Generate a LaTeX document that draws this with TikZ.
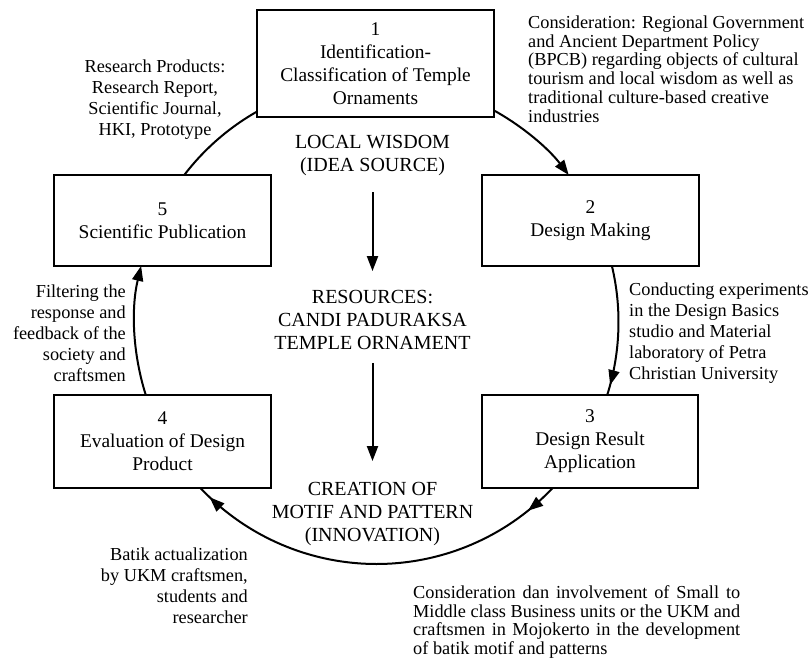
\documentclass[tikz,border=0pt]{standalone}
\usepackage{fontspec}
\setmainfont{Liberation Serif}
\usetikzlibrary{arrows.meta,decorations.markings,calc}
\begin{document}
\begin{tikzpicture}[x=1pt,y=1pt,
  box/.style={draw,line width=1.6pt,fill=white,rectangle,align=center,
    font=\fontsize{19.4}{23}\selectfont,inner sep=0pt},
  ctext/.style={align=center,font=\fontsize{20}{23}\selectfont,inner sep=0pt},
  note/.style={font=\fontsize{18.3}{21}\selectfont,inner sep=0pt},
  tightnote/.style={font=\fontsize{18.3}{18.8}\selectfont,inner sep=0pt},
  conn/.style={line width=2pt},
  tip/.style={-{Triangle[length=15pt,width=11pt]}},
]
\useasboundingbox (0,0) rectangle (810,-661);

% boxes
\node[box,minimum width=237pt,minimum height=107pt] (b1) at (375.5,-63.5)
  {1\\Identification-\\Classification of Temple\\Ornaments};
\node[box,minimum width=217pt,minimum height=91pt] (b2) at (590.5,-220.5)
  {2\\Design Making};
\node[box,minimum width=216pt,minimum height=93pt] (b3) at (590,-441.5)
  {3\\Design Result\\Application};
\node[box,minimum width=217pt,minimum height=93pt] (b4) at (162.5,-441.5)
  {4\\Evaluation of Design\\Product};
\node[box,minimum width=217pt,minimum height=91pt] (b5) at (162.5,-220.5)
  {5\\Scientific Publication};

% centre column
\node[ctext] (lw) at (372.5,-156) {LOCAL WISDOM\\(IDEA SOURCE)};
\node[ctext] (res) at (372.5,-320) {RESOURCES:\\CANDI PADURAKSA\\TEMPLE ORNAMENT};
\node[ctext] (cr) at (372.5,-514) {CREATION OF\\MOTIF AND PATTERN\\(INNOVATION)};
\draw[conn,tip,shorten <=16pt,shorten >=19pt] (lw) -- (res);
\draw[conn,tip,shorten <=13pt,shorten >=21pt] (res) -- (cr);

% annotations
\node[tightnote,align=left,anchor=west] (n1) at (528,-69)
  {Consideration: Regional Government\\and Ancient Department Policy\\(BPCB) regarding objects of cultural\\tourism and local wisdom as well as\\traditional culture-based creative\\industries};
\node[note,align=center] (n5) at (155,-100)
  {Research Products:\\Research Report,\\Scientific Journal,\\HKI, Prototype};
\node[note,align=left,anchor=west] (n2) at (629,-333)
  {Conducting experiments\\in the Design Basics\\studio and Material\\laboratory of Petra\\Christian University};
\node[note,align=right,anchor=east] (n4) at (126,-333)
  {Filtering the\\response and\\feedback of the\\society and\\craftsmen};
\node[note,align=right,anchor=east] (n3b) at (248,-586)
  {Batik actualization\\by UKM craftsmen,\\students and\\researcher};
\node[tightnote,align=left,anchor=west] (n3) at (413,-622)
  {\makebox[327pt][s]{Consideration dan involvement of Small to}\\
   \makebox[327pt][s]{Middle class Business units or the UKM and}\\
   \makebox[327pt][s]{craftsmen in Mojokerto in the development}\\
   of batik motif and patterns};

% circular connectors
\coordinate (C) at (376.5,-322);
\coordinate (pA) at ($(C)+(60.96:242pt)$);
\coordinate (pB) at ($(C)+(13.4:242pt)$);
\coordinate (pC) at ($(C)+(-43.3:242pt)$);
\coordinate (pD) at ($(C)+(197.6:242pt)$);
\coordinate (pE) at ($(C)+(142.6:242pt)$);

\draw[conn,tip] (pA) arc[start angle=60.96,end angle=37.4,radius=242pt];
\draw[conn,postaction={decorate},decoration={markings,
    mark=at position 0.92 with {\arrow{Triangle[length=15pt,width=11pt]}}}]
  (pB) arc[start angle=13.4,end angle=-17.6,radius=242pt];
\draw[conn,postaction={decorate},decoration={markings,
    mark=at position 0.085 with {\arrow{Triangle[length=15pt,width=11pt]}},
    mark=at position 0.967 with {\arrow{Triangle[length=15pt,width=11pt]}}}]
  (pC) arc[start angle=-43.3,end angle=-136.7,radius=242pt];
\draw[conn,tip] (pD) arc[start angle=197.6,end angle=166.6,radius=242pt];
\draw[conn] (pE) arc[start angle=142.6,end angle=119.6,radius=242pt];
\end{tikzpicture}
\end{document}
